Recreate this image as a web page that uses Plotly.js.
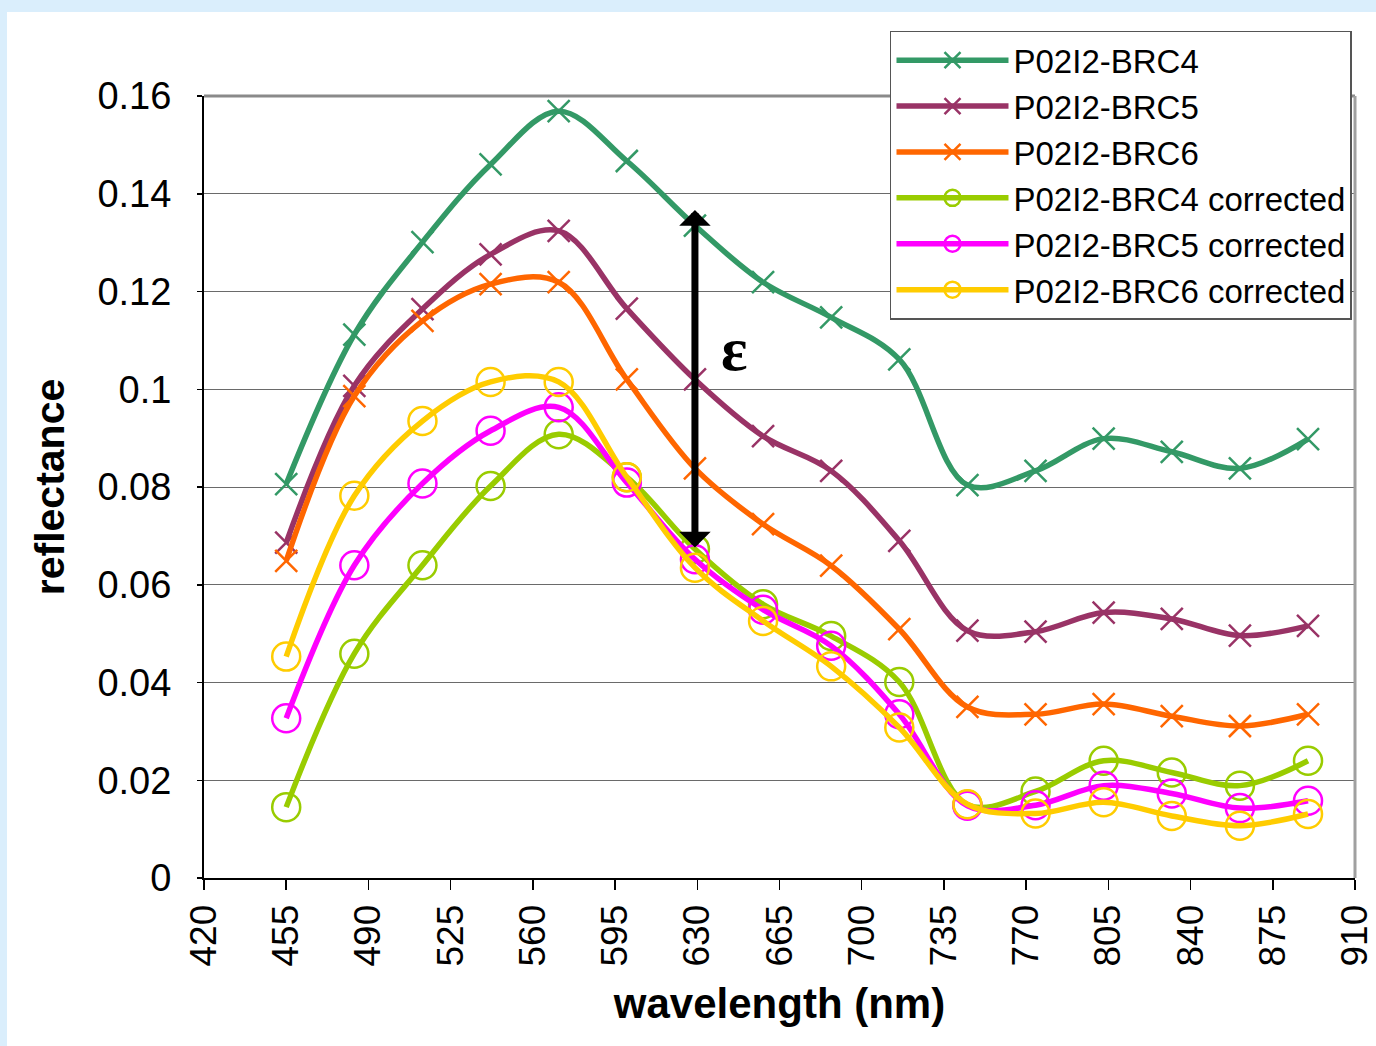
<!DOCTYPE html>
<html><head><meta charset="utf-8">
<script src="https://cdn.plot.ly/plotly-3.0.1.min.js"></script>
<style>
html,body{margin:0;padding:0;background:#DAEEFC;width:1376px;height:1046px;overflow:hidden;}
#chart{position:absolute;left:7px;top:12px;width:1369px;height:1034px;background:#fff;}
</style></head><body><div id="chart"></div>
<script>
const wavelengths = [455,484,513,542,571,600,629,658,687,716,745,774,803,832,861,890];
const brc4  = [0.0806,0.1112,0.1301,0.1460,0.1569,0.1467,0.1335,0.1219,0.1147,0.1061,0.0804,0.0833,0.0899,0.0872,0.0838,0.0898];
const brc5  = [0.0686,0.1007,0.1164,0.1276,0.1324,0.1165,0.1020,0.0904,0.0833,0.0690,0.0506,0.0504,0.0543,0.0530,0.0496,0.0516];
const brc6  = [0.0649,0.0986,0.1140,0.1215,0.1219,0.1020,0.0838,0.0724,0.0639,0.0509,0.0350,0.0335,0.0356,0.0331,0.0311,0.0335];
const brc4c = [0.0145,0.0459,0.0640,0.0802,0.0908,0.0820,0.0673,0.0560,0.0495,0.0401,0.0150,0.0177,0.0240,0.0216,0.0189,0.0240];
const brc5c = [0.0327,0.0640,0.0807,0.0915,0.0963,0.0809,0.0652,0.0549,0.0475,0.0335,0.0148,0.0149,0.0189,0.0173,0.0143,0.0158];
const brc6c = [0.0453,0.0782,0.0935,0.1015,0.1015,0.0820,0.0635,0.0526,0.0433,0.0308,0.0151,0.0132,0.0155,0.0127,0.0107,0.0131];
const seriesNames = ["P02I2-BRC4","P02I2-BRC5","P02I2-BRC6","P02I2-BRC4 corrected","P02I2-BRC5 corrected","P02I2-BRC6 corrected"];
const xTickVals = [420,455,490,525,560,595,630,665,700,735,770,805,840,875,910];
const yTickVals = [0,0.02,0.04,0.06,0.08,0.1,0.12,0.14,0.16];
const yTickText = ["0","0.02","0.04","0.06","0.08","0.1","0.12","0.14","0.16"];
const xTitle = "wavelength (nm)";
const yTitle = "reflectance";
const epsLabel = "ε";

const colors = ["#339966","#993366","#FF6600","#99CC00","#FF00FF","#FFCC00"];
const values = [brc4,brc5,brc6,brc4c,brc5c,brc6c];
const traces = values.map((v,i)=>{
  const corrected = i>=3;
  return {
    type:'scatter', mode:'lines+markers', name: seriesNames[i],
    x: wavelengths, y: v,
    line:{color:colors[i], width:5.5, shape:'spline', smoothing:1},
    marker: corrected ? {symbol:'circle-open', size:28, color:colors[i], line:{width:2.5, color:colors[i]}}
                      : {symbol:'x-thin-open', size:22, color:colors[i], line:{width:2.5, color:colors[i]}}
  };
});

const font = "Liberation Sans, Arial, sans-serif";
const layout = {
  width:1369, height:1034,
  margin:{l:197, r:21, t:84, b:168},
  paper_bgcolor:'#ffffff', plot_bgcolor:'#ffffff',
  showlegend:true,
  legend:{x:0.596, y:1.0835, xanchor:'left', yanchor:'top',
    bgcolor:'#ffffff', bordercolor:'#555555', borderwidth:1.5,
    font:{family:font, size:33, color:'#000'},
    itemwidth:112, tracegroupgap:0},
  xaxis:{range:[420,910], tickvals:xTickVals, ticktext:xTickVals.map(String), tickangle:-90,
    showgrid:false, zeroline:false, showline:true, linecolor:'#000', linewidth:2,
    ticks:'outside', ticklen:10, tickwidth:1.5, tickcolor:'#000', ticklabeloverflow:'allow',
    tickfont:{family:font, size:37, color:'#000'},
    title:{text:xTitle, font:{family:font, size:42, color:'#000', weight:'bold'}, standoff:23},
    automargin:false},
  yaxis:{range:[0,0.16], tickvals:yTickVals, ticktext:yTickText,
    showgrid:true, gridcolor:'#6a6a6a', gridwidth:1, zeroline:false,
    showline:true, linecolor:'#000', linewidth:2,
    ticks:'outside', ticklen:5, tickwidth:1.5, tickcolor:'#000', ticklabelstandoff:18,
    ticklabeloverflow:'allow',
    tickfont:{family:font, size:38, color:'#000'},
    title:{text:yTitle, font:{family:font, size:41, color:'#000', weight:'bold'}, standoff:20},
    automargin:false},
  shapes:[
    {type:'line', xref:'paper', yref:'paper', x0:0, x1:1, y0:1, y1:1, line:{color:'#8a8a8a', width:3}},
    {type:'line', xref:'paper', yref:'paper', x0:1, x1:1, y0:0, y1:1, line:{color:'#a0a0a0', width:3}}
  ],
  annotations:[
    {x:wavelengths[6], y:brc4[6]+0.0032, ax:wavelengths[6], ay:brc4c[6], xref:'x', yref:'y', axref:'x', ayref:'y',
     text:'', showarrow:true, arrowhead:1, startarrowhead:1, arrowside:'end+start',
     arrowwidth:7, arrowsize:0.75, startarrowsize:0.75, arrowcolor:'#000'},
    {x:wavelengths[6], y:(brc4[6]+brc4c[6])/2, xref:'x', yref:'y', text:epsLabel, showarrow:false,
     xshift:40, yshift:38, font:{family:"Liberation Serif, Times New Roman, serif", size:62, color:'#000', weight:'bold'}}
  ]
};
Plotly.newPlot('chart', traces, layout, {staticPlot:true});
</script></body></html>
